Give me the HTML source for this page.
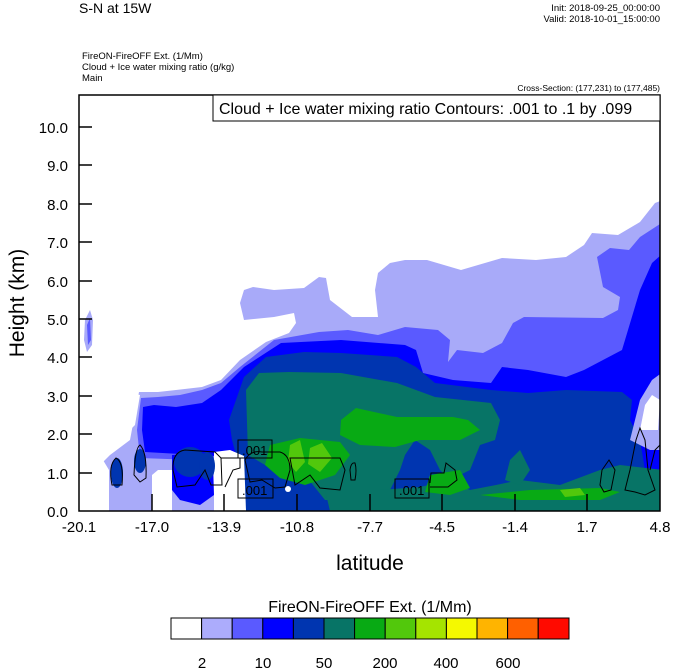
<!DOCTYPE html>
<html><head><meta charset="utf-8"><style>
body{margin:0;background:#fff;width:674px;height:668px;overflow:hidden}
svg{display:block}
text{font-family:"Liberation Sans",Arial,sans-serif;fill:#000}
</style></head><body>
<svg width="674" height="668" viewBox="0 0 674 668" xmlns="http://www.w3.org/2000/svg">
<defs><clipPath id="pc"><rect x="79" y="95" width="581" height="416"/></clipPath></defs>
<text x="79" y="13" font-size="14">S-N at 15W</text>
<text x="660" y="11" font-size="9.5" text-anchor="end">Init: 2018-09-25_00:00:00</text>
<text x="660" y="22" font-size="9.5" text-anchor="end">Valid: 2018-10-01_15:00:00</text>
<text x="82" y="59" font-size="9.5">FireON-FireOFF Ext.   (1/Mm)</text>
<text x="82" y="70" font-size="9.5">Cloud + Ice water mixing ratio   (g/kg)</text>
<text x="82" y="81" font-size="9.5">Main</text>
<text x="660" y="91" font-size="8.5" text-anchor="end">Cross-Section: (177,231) to (177,485)</text>

<g clip-path="url(#pc)">
<polygon fill="#a8aaf9" points="139,392 158,392 176,390 202,387 221,380 240,360 266,342 289,333 296,323 294,313 274,317 244,320 240,303 244,290 253,287 274,290 304,288 319,277 326,278 330,300 352,317 378,317 375,290 378,273 390,263 405,260 427,260 461,270 502,258 536,260 566,257 584,245 592,233 618,235 640,222 655,203 663,200 663,511 95,511 95,470 110,455 130,440"/>
<polygon fill="#a8aaf9" points="85,320 90,310 93,320 92,345 87,352 84,340"/>
<polygon fill="#5a5aff" points="87,325 90,318 91,340 88,345"/>
<polygon fill="#5a5aff" points="141,398 158,397 180,395 202,390 221,383 240,367 274,340 319,332 348,330 378,335 405,327 438,330 450,340 448,362 457,350 483,353 502,343 513,323 524,317 603,318 618,310 620,297 603,287 597,257 610,248 629,250 640,237 663,222 663,511 250,511 250,462 140,458 137,430"/>
<polygon fill="#0000ff" points="143,407 154,405 176,407 202,403 221,390 244,367 281,343 341,340 405,345 416,350 423,373 453,380 491,383 502,367 528,370 566,377 584,370 622,350 640,290 652,263 661,255 663,511 250,511 250,458 145,452 142,430"/>
<polygon fill="#0035b0" points="229,420 244,377 266,357 304,352 341,353 397,357 416,367 435,383 491,390 528,393 566,390 622,392 632,400 630,420 640,440 645,470 663,480 663,511 246,511 240,470 232,440"/>
<polygon fill="#077466" points="246,390 259,373 289,372 341,373 397,383 435,397 491,403 500,420 495,440 480,445 470,470 450,480 440,470 430,450 415,440 405,455 400,470 390,490 380,500 325,500 305,475 265,465 248,455"/>
<polygon fill="#077466" points="325,490 380,490 420,487 450,480 470,490 496,485 520,480 560,485 600,470 620,465 663,470 663,511 330,511"/>
<polygon fill="#077466" points="510,460 520,450 530,470 520,485 505,480"/>
<polygon fill="#08aa14" points="341,420 356,408 397,417 453,417 468,420 480,430 460,440 420,440 395,447 360,445 340,435"/>
<polygon fill="#08aa14" points="270,445 300,438 340,442 350,455 335,475 305,485 280,478 265,465"/>
<polygon fill="#08aa14" points="430,475 460,470 470,488 450,495 425,492"/>
<polygon fill="#08aa14" points="480,495 530,490 600,488 620,492 600,500 520,500"/>
<polygon fill="#52c80c" points="290,445 300,440 305,462 296,472 288,462"/>
<polygon fill="#52c80c" points="310,448 322,443 332,458 320,472 308,464"/>
<polygon fill="#52c80c" points="560,490 580,488 585,495 565,497"/>
<!-- left bottom -->
<polygon fill="#fff" points="79,380 79,511 109,511 109,470 100,455 120,440 135,425 140,395"/>
<polygon fill="#fff" points="152,475 158,470 172,470 172,511 152,511"/>
<polygon fill="#fff" points="214,452 230,450 244,456 246,511 214,511"/>
<polygon fill="#0000ff" points="172,455 212,452 214,495 200,505 180,500 172,490"/>
<ellipse cx="117" cy="473" rx="6" ry="15" fill="#0035b0"/>
<ellipse cx="140" cy="461" rx="6" ry="12" fill="#0035b0"/>
<ellipse cx="190" cy="462" rx="16" ry="15" fill="#0035b0"/>
<ellipse cx="207" cy="466" rx="8" ry="14" fill="#0035b0"/>
<polygon fill="#a8aaf9" points="630,440 640,400 652,380 663,372 663,450 650,450"/>
<polygon fill="#fff" points="640,430 645,405 652,395 660,400 658,430"/>
<circle cx="288" cy="489" r="3" fill="#fff"/>
<g fill="none" stroke="#000" stroke-width="1">
<path d="M112,485 Q108,465 116,458 Q124,462 122,485 Z"/>
<path d="M134,475 Q135,448 140,445 Q147,452 146,478 L140,482 Z"/>
<path d="M173,470 Q172,452 185,450 L215,452 L221,458 L222,485 L211,485 L205,470 L195,485 L177,487 Z"/>
<path d="M221,458 L240,458 L240,468 L233,470 L225,487"/>
<path d="M245,460 Q250,450 262,452 L280,452 Q290,455 290,470 L285,487 L275,488 L262,480 L250,482 Z"/>
<path d="M290,458 L340,458 L345,470 L340,490 L320,488 L310,475 L295,485 Z"/>
<path d="M350,470 Q351,462 355,463 Q357,470 355,480 L351,480 Z"/>
<path d="M430,483 L431,473 L444,473 L446,463 L455,470 L457,480 L448,487 L430,487"/>
<path d="M600,485 L602,470 L609,460 L615,470 L611,490 L604,492 Z"/>
<path d="M625,490 L630,470 L636,440 L640,428 L645,440 L648,470 L655,490 L645,495 L635,492 Z"/>
<path d="M650,470 L655,450 L660,445"/>
</g>
<g font-size="13">
<rect x="238" y="440" width="34" height="18" fill="none" stroke="#000"/>
<text x="242" y="455">.001</text>
<rect x="238" y="479" width="35" height="19" fill="none" stroke="#000"/>
<text x="242" y="495">.001</text>
<rect x="395" y="479" width="34" height="19" fill="none" stroke="#000"/>
<text x="399" y="495">.001</text>
</g>
</g>

<rect x="79" y="95" width="581" height="416" fill="none" stroke="#000" stroke-width="1.5"/>
<rect x="213" y="95" width="447" height="26" fill="#fff" stroke="#000" stroke-width="1"/>
<text x="219" y="114" font-size="16">Cloud + Ice water mixing ratio Contours: .001 to .1 by .099</text>
<g stroke="#000" stroke-width="1.5">
<line x1="79" y1="127" x2="92" y2="127"/><line x1="79" y1="165" x2="92" y2="165"/>
<line x1="79" y1="204" x2="92" y2="204"/><line x1="79" y1="242" x2="92" y2="242"/>
<line x1="79" y1="281" x2="92" y2="281"/><line x1="79" y1="319" x2="92" y2="319"/>
<line x1="79" y1="357" x2="92" y2="357"/><line x1="79" y1="396" x2="92" y2="396"/>
<line x1="79" y1="434" x2="92" y2="434"/><line x1="79" y1="473" x2="92" y2="473"/>
<line x1="152" y1="511" x2="152" y2="494"/><line x1="224" y1="511" x2="224" y2="494"/>
<line x1="297" y1="511" x2="297" y2="494"/><line x1="370" y1="511" x2="370" y2="494"/>
<line x1="442" y1="511" x2="442" y2="494"/><line x1="515" y1="511" x2="515" y2="494"/>
<line x1="587" y1="511" x2="587" y2="494"/>
</g>
<g font-size="15" text-anchor="end">
<text x="68" y="133">10.0</text><text x="68" y="171">9.0</text><text x="68" y="210">8.0</text>
<text x="68" y="248">7.0</text><text x="68" y="287">6.0</text><text x="68" y="325">5.0</text>
<text x="68" y="363">4.0</text><text x="68" y="402">3.0</text><text x="68" y="440">2.0</text>
<text x="68" y="479">1.0</text><text x="68" y="517">0.0</text>
</g>
<g font-size="15" text-anchor="middle">
<text x="79" y="532">-20.1</text><text x="152" y="532">-17.0</text><text x="224" y="532">-13.9</text>
<text x="297" y="532">-10.8</text><text x="370" y="532">-7.7</text><text x="442" y="532">-4.5</text>
<text x="515" y="532">-1.4</text><text x="587" y="532">1.7</text><text x="660" y="532">4.8</text>
</g>
<text x="370" y="570" font-size="21" text-anchor="middle">latitude</text>
<text transform="translate(24,303) rotate(-90)" font-size="21" text-anchor="middle">Height (km)</text>

<text x="370" y="612" font-size="16" text-anchor="middle">FireON-FireOFF Ext.  (1/Mm)</text>
<g stroke="#000" stroke-width="1">
<rect x="171" y="618" width="30.6" height="21" fill="#ffffff"/>
<rect x="201.6" y="618" width="30.6" height="21" fill="#acacfc"/>
<rect x="232.2" y="618" width="30.6" height="21" fill="#5a5aff"/>
<rect x="262.8" y="618" width="30.6" height="21" fill="#0000ff"/>
<rect x="293.4" y="618" width="30.6" height="21" fill="#0035b0"/>
<rect x="324" y="618" width="30.6" height="21" fill="#077466"/>
<rect x="354.6" y="618" width="30.6" height="21" fill="#08aa14"/>
<rect x="385.2" y="618" width="30.6" height="21" fill="#52c80c"/>
<rect x="415.8" y="618" width="30.6" height="21" fill="#a5e400"/>
<rect x="446.4" y="618" width="30.6" height="21" fill="#f5f900"/>
<rect x="477" y="618" width="30.6" height="21" fill="#ffb400"/>
<rect x="507.6" y="618" width="30.6" height="21" fill="#ff6000"/>
<rect x="538.2" y="618" width="30.8" height="21" fill="#ff0a00"/>
</g>
<g font-size="15" text-anchor="middle">
<text x="202" y="668">2</text><text x="263" y="668">10</text><text x="324" y="668">50</text>
<text x="385" y="668">200</text><text x="446" y="668">400</text><text x="508" y="668">600</text>
</g>
</svg>
</body></html>
